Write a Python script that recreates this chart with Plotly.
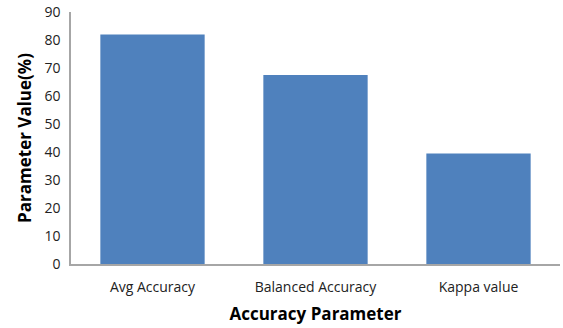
import plotly.graph_objects as go

categories = ["Avg Accuracy", "Balanced Accuracy", "Kappa value"]
values = [82, 67.5, 39.5]
y_ticks = [0, 10, 20, 30, 40, 50, 60, 70, 80, 90]

fig = go.Figure(go.Bar(x=categories, y=values, marker=dict(color="#4F81BD", line=dict(width=0))))

font_family = "Open Sans, Liberation Sans, sans-serif"
fig.update_layout(
    width=563, height=328,
    margin=dict(l=71, r=3, t=12, b=64),
    paper_bgcolor="white", plot_bgcolor="white",
    bargap=0.36,
    showlegend=False,
    font=dict(family=font_family, color="#000000", size=13),
)
fig.update_xaxes(
    showline=True, linecolor="#A6A6A6", linewidth=1.5,
    showgrid=False, ticks="", tickfont=dict(size=14, color="#222"),
    ticklabelstandoff=9, automargin=False,
    title=dict(text="<b>Accuracy Parameter</b>", font=dict(size=17), standoff=14),
)
fig.update_yaxes(
    range=[0, 90], tickvals=y_ticks, showline=True, linecolor="#A6A6A6", linewidth=1.5,
    showgrid=False, zeroline=False, ticks="", tickfont=dict(size=14, color="#222"),
    ticklabelstandoff=6,
    title=dict(text="<b>Parameter Value(%)</b>", font=dict(size=17), standoff=8),
)
fig.write_html("out.html")
